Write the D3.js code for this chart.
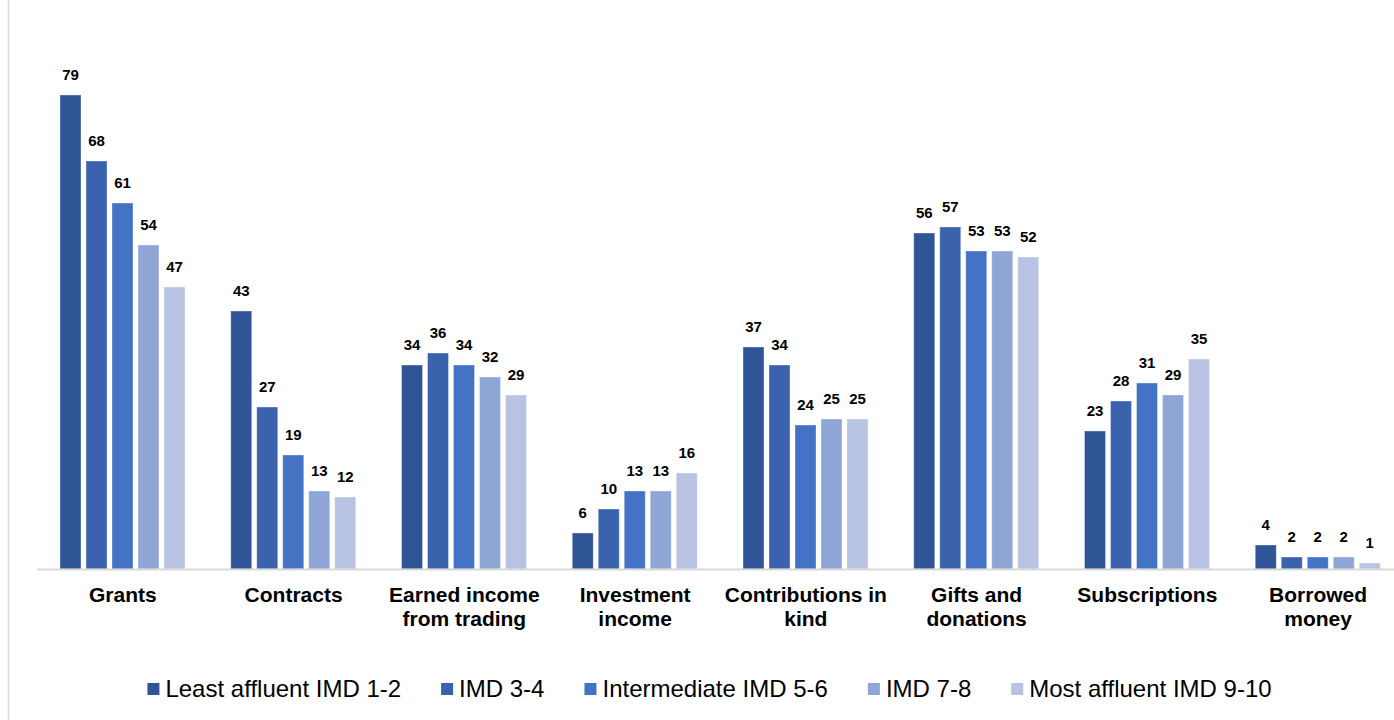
<!DOCTYPE html>
<html>
<head>
<meta charset="utf-8">
<script src="https://cdn.jsdelivr.net/npm/d3@7"></script>
<style>
  html, body { margin: 0; padding: 0; background: #fff; }
  svg { display: block; font-family: "Liberation Sans", Arial, sans-serif; }
</style>
</head>
<body>
<svg id="chart" width="1394" height="720"></svg>
<script>
// Income sources (category axis), shown in two lines where needed
const categories = [
  ["Grants"],
  ["Contracts"],
  ["Earned income", "from trading"],
  ["Investment", "income"],
  ["Contributions in", "kind"],
  ["Gifts and", "donations"],
  ["Subscriptions"],
  ["Borrowed", "money"]
];

// Deprivation groups (legend / series)
const seriesNames = [
  "Least affluent IMD 1-2",
  "IMD 3-4",
  "Intermediate IMD 5-6",
  "IMD 7-8",
  "Most affluent IMD 9-10"
];

// Percentages per income source, one array per series
const leastAffluent   = [79, 43, 34, 6, 37, 56, 23, 4];
const imd34           = [68, 27, 36, 10, 34, 57, 28, 2];
const intermediate    = [61, 19, 34, 13, 24, 53, 31, 2];
const imd78           = [54, 13, 32, 13, 25, 53, 29, 2];
const mostAffluent    = [47, 12, 29, 16, 25, 52, 35, 1];

const seriesValues = [leastAffluent, imd34, intermediate, imd78, mostAffluent];
const colors = ["#2f5597", "#3b63ad", "#4472c4", "#8fa5d5", "#b8c3e3"];

const svg = d3.select("#chart");
const W = 1394, H = 720;

// Outer frame line on the left
svg.append("line")
  .attr("x1", 8.5).attr("x2", 8.5).attr("y1", 0).attr("y2", H)
  .attr("stroke", "#d9d9d9").attr("stroke-width", 1.5);

const catKeys = categories.map(c => c.join(" "));
const x0 = d3.scaleBand().domain(catKeys).range([37.5, 1403.5]).padding(0);
const x1 = d3.scaleBand().domain(seriesNames).range([22.5, 147.5]).paddingInner(0.192).paddingOuter(0);
const y = d3.scaleLinear().domain([0, 90]).range([569, 29]);

const rows = catKeys.map((k, i) => ({
  key: k,
  lines: categories[i],
  values: seriesNames.map((s, j) => ({ series: s, idx: j, value: seriesValues[j][i] }))
}));

const groups = svg.append("g").selectAll("g")
  .data(rows).join("g")
  .attr("transform", d => `translate(${x0(d.key)},0)`);

groups.selectAll("rect")
  .data(d => d.values).join("rect")
  .attr("x", d => x1(d.series))
  .attr("y", d => y(d.value))
  .attr("width", x1.bandwidth())
  .attr("height", d => y(0) - y(d.value))
  .attr("fill", d => colors[d.idx])
  .attr("stroke", "rgba(255,255,255,0.35)")
  .attr("stroke-width", 1);

groups.selectAll("text.val")
  .data(d => d.values).join("text")
  .attr("class", "val")
  .attr("x", d => x1(d.series) + x1.bandwidth() / 2)
  .attr("y", d => y(d.value) - 15)
  .attr("text-anchor", "middle")
  .attr("font-size", 15)
  .attr("font-weight", "bold")
  .attr("fill", "#000")
  .text(d => d.value);

// Baseline
svg.append("line")
  .attr("x1", 37).attr("x2", W).attr("y1", 569.5).attr("y2", 569.5)
  .attr("stroke", "#d9d9d9").attr("stroke-width", 2);

// Category labels
const catLabels = svg.append("g").selectAll("text")
  .data(rows).join("text")
  .attr("x", d => x0(d.key) + x0.bandwidth() / 2)
  .attr("y", 602)
  .attr("text-anchor", "middle")
  .attr("font-size", 21)
  .attr("font-weight", "bold")
  .attr("fill", "#000");
catLabels.selectAll("tspan")
  .data(d => d.lines).join("tspan")
  .attr("x", function () { return d3.select(this.parentNode).attr("x"); })
  .attr("dy", (d, i) => i === 0 ? 0 : 24)
  .text(d => d);

// Legend
const legend = svg.append("g");
const items = legend.selectAll("g").data(seriesNames).join("g");
items.append("rect")
  .attr("width", 12).attr("height", 12)
  .attr("y", 683)
  .attr("fill", (d, i) => colors[i]);
items.append("text")
  .attr("x", 18).attr("y", 697)
  .attr("font-size", 24)
  .attr("fill", "#000")
  .text(d => d);

const widths = [];
items.each(function () {
  const w = 18 + d3.select(this).select("text").node().getComputedTextLength();
  widths.push(w);
});
const gap = 40;
const total = d3.sum(widths) + gap * (widths.length - 1);
let start = 709.5 - total / 2;
items.attr("transform", (d, i) => {
  const t = `translate(${start},0)`;
  start += widths[i] + gap;
  return t;
});
</script>
</body>
</html>
